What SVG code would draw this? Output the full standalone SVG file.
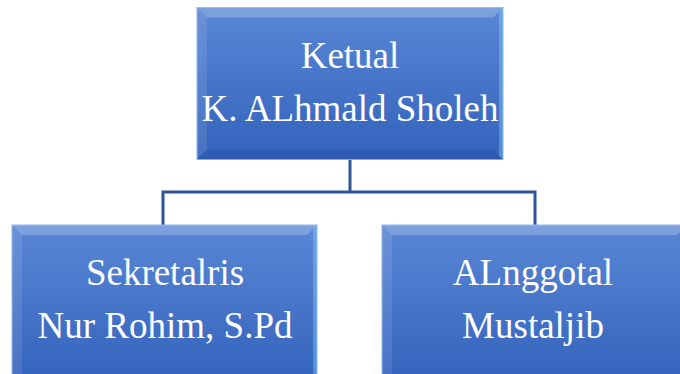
<svg xmlns="http://www.w3.org/2000/svg" width="680" height="374" viewBox="0 0 680 374">
<style>
.box{fill:url(#g);stroke:#8fb2ea;stroke-width:1}
.bt{fill:#ffffff;fill-opacity:0.22}
.bl{fill:#ffffff;fill-opacity:0.1}
.br{fill:#8fe0ff;fill-opacity:0.35}
.bb{fill:#102a60;fill-opacity:0.12}
.t{font-family:"Liberation Serif","Times New Roman",serif;font-size:37px;fill:#ffffff;text-anchor:middle}
.c{fill:none;stroke:#2f5597;stroke-width:3}
</style>
<defs>
<linearGradient id="g" x1="0" y1="0" x2="0" y2="1">
<stop offset="0" stop-color="#5a87d5"/>
<stop offset="1" stop-color="#3262bb"/>
</linearGradient>
</defs>
<g id="connectors">
<path class="c" d="M350 160 V192 H163 V226 M350 192 H535 V226"/>
</g>
<g id="ketua">
<rect class="box" x="197" y="7.5" width="306" height="152"/>
<path class="bt" d="M197 7.5 H503 L493 17.5 H207 Z"/>
<path class="bl" d="M197 7.5 L207 17.5 V149.5 L197 159.5 Z"/>
<path class="br" d="M503 7.5 V159.5 L499 155.5 V11.5 Z"/>
<path class="bb" d="M197 159.5 H503 L493 149.5 H207 Z"/>
<text class="t" x="350" y="68">Ketual</text>
<text class="t" x="350" y="121">K. ALhmald Sholeh</text>
</g>
<g id="sekretaris">
<rect class="box" x="12" y="225" width="305" height="160"/>
<path class="bt" d="M12 225 H317 L307 235 H22 Z"/>
<path class="bl" d="M12 225 L22 235 V385 H12 Z"/>
<path class="br" d="M317 225 V385 H313 V229 Z"/>
<text class="t" x="165" y="285">Sekretalris</text>
<text class="t" x="165" y="338">Nur Rohim, S.Pd</text>
</g>
<g id="anggota">
<rect class="box" x="382" y="225" width="305" height="160"/>
<path class="bt" d="M382 225 H687 L677 235 H392 Z"/>
<path class="bl" d="M382 225 L392 235 V385 H382 Z"/>
<text class="t" x="533" y="285">ALnggotal</text>
<text class="t" x="533" y="338">Mustaljib</text>
</g>
</svg>
